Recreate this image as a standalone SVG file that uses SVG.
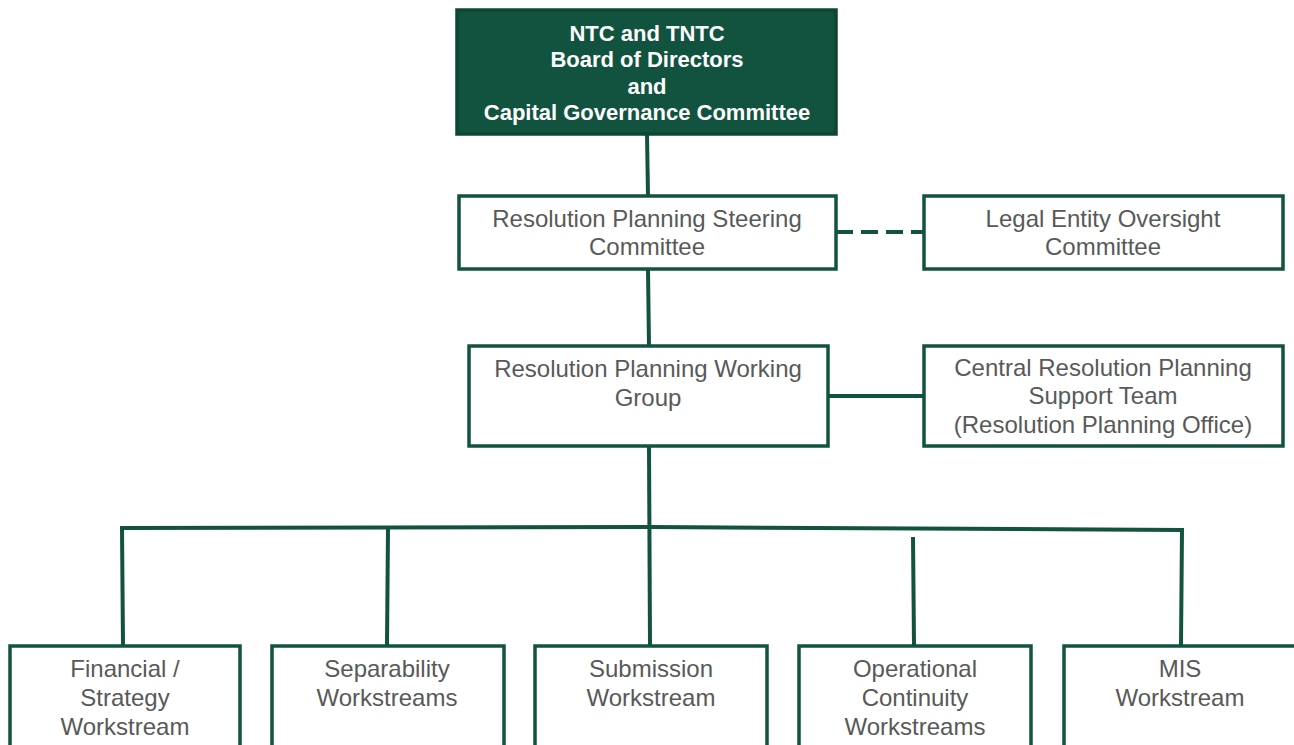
<svg xmlns="http://www.w3.org/2000/svg" width="1294" height="745" viewBox="0 0 1294 745">
<style>
.box{fill:#ffffff;stroke:#12533f;stroke-width:3.5}
.top{fill:#12533f;stroke:#0e4634;stroke-width:3.5}
.t{font-family:"Liberation Sans",Arial,sans-serif;font-size:24px;fill:#595959;text-anchor:middle}
.w{font-family:"Liberation Sans",Arial,sans-serif;font-weight:bold;font-size:22px;fill:#ffffff;text-anchor:middle}
.c{stroke:#12533f;stroke-width:4;fill:none}
</style>
<rect width="1294" height="745" fill="#ffffff"/>
<g id="connectors">
<line class="c" x1="647" y1="134" x2="648" y2="196"/>
<line class="c" x1="648" y1="269" x2="649" y2="347"/>
<line class="c" x1="836" y1="232" x2="923" y2="232" stroke-dasharray="17 8"/>
<line class="c" x1="828" y1="396" x2="923" y2="396"/>
<line class="c" x1="649" y1="447" x2="650" y2="646"/>
<polyline class="c" points="123,645 122,528 650,527 1182,530 1181,645"/>
<line class="c" x1="388" y1="528" x2="387" y2="645"/>
<line class="c" x1="913" y1="537" x2="914" y2="645"/>
</g>
<g id="board">
<rect class="top" x="457" y="10" width="379" height="124"/>
<text class="w" x="647" y="41" font-size="24">NTC and TNTC</text>
<text class="w" x="647" y="67">Board of Directors</text>
<text class="w" x="647" y="94">and</text>
<text class="w" x="647" y="120">Capital Governance Committee</text>
</g>
<g id="steering">
<rect class="box" x="459" y="196" width="377" height="73"/>
<text class="t" x="647" y="227">Resolution Planning Steering</text>
<text class="t" x="647" y="255">Committee</text>
</g>
<g id="legal">
<rect class="box" x="924" y="196" width="359" height="73"/>
<text class="t" x="1103" y="227">Legal Entity Oversight</text>
<text class="t" x="1103" y="255">Committee</text>
</g>
<g id="working">
<rect class="box" x="469" y="346" width="359" height="100"/>
<text class="t" x="648" y="377">Resolution Planning Working</text>
<text class="t" x="648" y="406">Group</text>
</g>
<g id="central">
<rect class="box" x="924" y="346" width="359" height="100"/>
<text class="t" x="1103" y="376">Central Resolution Planning</text>
<text class="t" x="1103" y="404">Support Team</text>
<text class="t" x="1103" y="433">(Resolution Planning Office)</text>
</g>
<g id="financial">
<rect class="box" x="10" y="646" width="230" height="110"/>
<text class="t" x="125" y="677">Financial /</text>
<text class="t" x="125" y="706">Strategy</text>
<text class="t" x="125" y="735">Workstream</text>
</g>
<g id="separability">
<rect class="box" x="272" y="646" width="232" height="110"/>
<text class="t" x="387" y="677">Separability</text>
<text class="t" x="387" y="706">Workstreams</text>
</g>
<g id="submission">
<rect class="box" x="535" y="646" width="232" height="110"/>
<text class="t" x="651" y="677">Submission</text>
<text class="t" x="651" y="706">Workstream</text>
</g>
<g id="operational">
<rect class="box" x="799" y="646" width="232" height="110"/>
<text class="t" x="915" y="677">Operational</text>
<text class="t" x="915" y="706">Continuity</text>
<text class="t" x="915" y="735">Workstreams</text>
</g>
<g id="mis">
<rect class="box" x="1064" y="646" width="240" height="110"/>
<text class="t" x="1180" y="677">MIS</text>
<text class="t" x="1180" y="706">Workstream</text>
</g>
</svg>
